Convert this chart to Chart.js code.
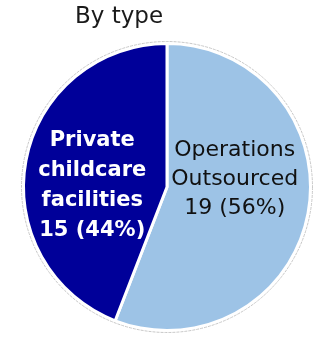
<!DOCTYPE html>
<html lang="en">
<head>
  <meta charset="UTF-8" />
  <title>By type</title>
  <script src="https://cdn.jsdelivr.net/npm/chart.js"></script>
  <style>
    html, body { margin: 0; padding: 0; background: #fff; }
    #wrap { position: relative; width: 321px; height: 340px; }
    #title { position: absolute; left: 75px; top: 0px; font: 23px "DejaVu Sans", sans-serif; color: #1a1a1a; line-height: 30px; }
  </style>
</head>
<body>
  <div id="wrap">
    <div id="title">By type</div>
    <canvas id="pie" width="321" height="340"></canvas>
  </div>

  <script>
    // data
    const categories = ['Operations Outsourced', 'Private childcare facilities'];
    const labelLines = [['Operations', 'Outsourced'], ['Private', 'childcare', 'facilities']];
    const counts = [19, 15];
    const sliceColors = ['#9dc3e6', '#000099'];

    const total = counts.reduce((a, b) => a + b, 0);

    // text inside slices
    const sliceLabels = {
      id: 'sliceLabels',
      afterDatasetsDraw(chart, args, opts) {
        const ctx = chart.ctx;
        const arcs = chart.getDatasetMeta(0).data;
        arcs.forEach((arc, i) => {
          const p = arc.getProps(['x', 'y', 'startAngle', 'endAngle', 'outerRadius'], true);
          const mid = (p.startAngle + p.endAngle) / 2;
          const st = opts.styles[i];
          const cx = p.x + Math.cos(mid) * p.outerRadius * st.frac;
          const cy = p.y + Math.sin(mid) * p.outerRadius * st.frac + st.dy;
          const pct = Math.round(counts[i] / total * 100);
          const lines = labelLines[i].concat([counts[i] + ' (' + pct + '%)']);
          ctx.save();
          ctx.font = st.font;
          ctx.fillStyle = st.color;
          ctx.textAlign = 'center';
          ctx.textBaseline = 'middle';
          const top = cy - (lines.length - 1) * st.lh / 2;
          lines.forEach((t, k) => ctx.fillText(t, cx, top + k * st.lh));
          ctx.restore();
        });
      }
    };

    // faint outer rim, a little outside the white edge
    const outerRim = {
      id: 'outerRim',
      afterDatasetsDraw(chart) {
        const arc = chart.getDatasetMeta(0).data[0];
        if (!arc) return;
        const ctx = chart.ctx;
        ctx.save();
        ctx.strokeStyle = '#c8c8c8';
        ctx.lineWidth = 1;
        ctx.setLineDash([3, 1]);
        ctx.beginPath();
        ctx.arc(arc.x, arc.y, arc.outerRadius + 2, 0, Math.PI * 2);
        ctx.stroke();
        ctx.restore();
      }
    };

    new Chart(document.getElementById('pie'), {
      type: 'pie',
      data: {
        labels: categories,
        datasets: [{
          data: counts,
          backgroundColor: sliceColors,
          borderColor: '#ffffff',
          borderWidth: 3
        }]
      },
      options: {
        responsive: false,
        animation: false,
        layout: { padding: { top: 42, bottom: 8, left: 22, right: 9 } },
        plugins: {
          legend: { display: false },
          tooltip: { enabled: false },
          sliceLabels: {
            styles: [
              { frac: 0.48, dy: -20, lh: 29, font: '22px "DejaVu Sans", sans-serif', color: '#111111' },
              { frac: 0.53, dy: 13, lh: 30, font: 'bold 21px "DejaVu Sans", sans-serif', color: '#ffffff' }
            ]
          }
        }
      },
      plugins: [outerRim, sliceLabels]
    });
  </script>
</body>
</html>
